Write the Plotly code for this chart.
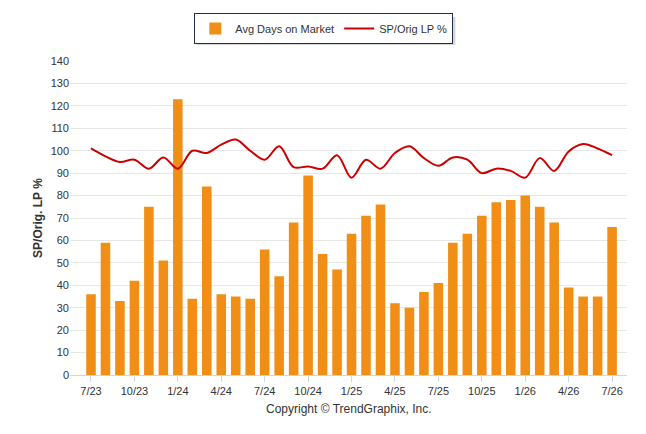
import plotly.graph_objects as go

# monthly data, 7/23 .. 7/26
months = [
    "7/23", "8/23", "9/23", "10/23", "11/23", "12/23",
    "1/24", "2/24", "3/24", "4/24", "5/24", "6/24",
    "7/24", "8/24", "9/24", "10/24", "11/24", "12/24",
    "1/25", "2/25", "3/25", "4/25", "5/25", "6/25",
    "7/25", "8/25", "9/25", "10/25", "11/25", "12/25",
    "1/26", "2/26", "3/26", "4/26", "5/26", "6/26", "7/26",
]
avg_days = [
    36, 59, 33, 42, 75, 51,
    123, 34, 84, 36, 35, 34,
    56, 44, 68, 89, 54, 47,
    63, 71, 76, 32, 30, 37,
    41, 59, 63, 71, 77, 78,
    80, 75, 68, 39, 35, 35, 66,
]
sp_orig_lp = [
    101, 97.5, 95, 96, 92, 97,
    92, 100, 99, 102.7, 105, 100,
    96, 102, 92.7, 93, 92, 98,
    88, 96, 92, 99, 102, 96.7,
    93.3, 97, 96, 90, 92, 91,
    88, 96.7, 91, 99.7, 103, 101, 98,
]
tick_labels = months[::3]

x = list(range(len(months)))

fig = go.Figure()
fig.add_trace(go.Bar(
    x=x, y=avg_days, name="Avg Days on Market",
    marker=dict(color="#F08E16", line=dict(width=0)),
    width=0.66,
))
fig.add_trace(go.Scatter(
    x=x, y=sp_orig_lp, name="SP/Orig LP %", mode="lines",
    line=dict(color="#CC0000", width=2, shape="spline", smoothing=1),
))

# page body has an 8px margin, so size the figure to the visible area
fig.update_layout(
    width=638, height=426,
    margin=dict(l=62, r=19, t=53, b=59, autoexpand=False),
    paper_bgcolor="white", plot_bgcolor="white",
    font=dict(family="Liberation Sans, Arial, sans-serif", size=11, color="#333333"),
    showlegend=True,
    legend=dict(
        orientation="h",
        xref="container", yref="container",
        x=0.495, xanchor="center", y=0.988, yanchor="top",
        bordercolor="#1f2d4f", borderwidth=1,
        bgcolor="white",
        font=dict(size=11, color="#333333"),
        traceorder="normal",
        itemwidth=30,
    ),
    bargap=0.34,
)
# soft drop shadow behind the legend box
fig.add_shape(
    type="rect", xref="paper", yref="paper",
    x0=0.2275, x1=0.692, y0=1.051, y1=1.14,
    fillcolor="#999999", opacity=0.4, line=dict(width=0),
)
fig.update_xaxes(
    range=[-1.45, 37.03],
    tickmode="array", tickvals=x[::3], ticktext=tick_labels,
    showgrid=False, zeroline=False,
    showline=True, linecolor="#ccd6eb", linewidth=1,
    ticks="outside", ticklen=6, tickcolor="#ccd6eb",
    tickfont=dict(size=11, color="#333333"),
)
fig.update_yaxes(
    range=[0, 140], dtick=10,
    showgrid=True, gridcolor="#e6e6e6", gridwidth=1,
    zeroline=False, showline=False,
    tickfont=dict(size=11, color="#333333"),
    title=dict(text="<b>SP/Orig. LP %</b>", font=dict(size=12, color="#333333"), standoff=5),
)
fig.add_annotation(
    text="Copyright © TrendGraphix, Inc.",
    xref="paper", yref="paper", x=0.5, y=-0.108,
    xanchor="center", yanchor="middle", showarrow=False,
    font=dict(size=12, color="#333333"),
)

fig.write_html("out.html")
